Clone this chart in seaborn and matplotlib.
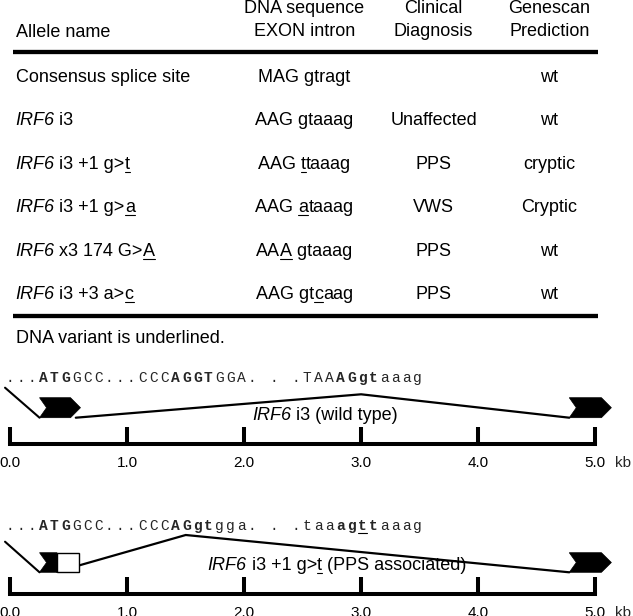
import re
import matplotlib
matplotlib.use("Agg")
import matplotlib.pyplot as plt
from matplotlib.patches import Polygon, Rectangle
import seaborn as sns

# table data (markup: *italic*  **bold**  _underline_)
header_left = "Allele name"
header_cols = [["DNA sequence", "EXON intron"], ["Clinical", "Diagnosis"], ["Genescan", "Prediction"]]
alleles = ["Consensus splice site", "*IRF6* i3", "*IRF6* i3 +1 g>_t_",
           "*IRF6* i3 +1 g>_a_", "*IRF6* x3 174 G>_A_", "*IRF6* i3 +3 a>_c_"]
sequences = ["MAG gtragt", "AAG gtaaag", "AAG _t_taaag", "AAG _a_taaag", "AA_A_ gtaaag", "AAG gt_c_aag"]
diagnosis = ["", "Unaffected", "PPS", "VWS", "PPS", "PPS"]
prediction = ["wt", "wt", "cryptic", "Cryptic", "wt", "wt"]
footnote = "DNA variant is underlined."

# gene diagrams, positions in kb
kb_ticks = [0.0, 1.0, 2.0, 3.0, 4.0, 5.0]
wt_seq = "...**ATG**GCC...CCC**AGGT**GGA. . .TAA**AGgt**aaag"
mut_seq = "...**ATG**GCC...CCC**AGgt**gga. . .taa**ag_t_t**aaag"
wt_label = "*IRF6* i3 (wild type)"
mut_label = "*IRF6* i3 +1 g>_t_ (PPS associated)"
exon3_kb = [0.25, 0.60]
exon4_kb = [4.78, 5.14]
lost_kb = [0.40, 0.59]      # part of exon 3 lost with the cryptic donor
wt_donor_kb = 3.0
mut_donor_kb = 1.5

# ---- layout ----
W, H = 633, 616
KB0, KB5 = 10.3, 595.0           # pixel x of 0.0 and 5.0 kb
PX_PER_KB = (KB5 - KB0) / 5
SANS = "Liberation Sans"
MONO = "Liberation Mono"

sns.set_theme(style="white")
plt.rcParams["font.family"] = [SANS, "DejaVu Sans"]

fig = plt.figure(figsize=(W / 100, H / 100), dpi=100)
tax = fig.add_axes([0, 0, 1, 1])
tax.set_xlim(0, W)
tax.set_ylim(H, 0)
tax.axis("off")
renderer = fig.canvas.get_renderer()


def parse(s):
    runs, b, i, u = [], False, False, False
    for tok in re.split(r"(\*\*|\*|_)", s):
        if tok == "**":
            b = not b
        elif tok == "*":
            i = not i
        elif tok == "_":
            u = not u
        elif tok:
            runs.append((tok, b, i, u))
    return runs


def advance(s, **kw):
    t1 = tax.text(0, 0, "|" + s + "|", **kw)
    t2 = tax.text(0, 0, "||", **kw)
    w = t1.get_window_extent(renderer).width - t2.get_window_extent(renderer).width
    t1.remove()
    t2.remove()
    return w


def rich_text(x, y, s, ha="left", size=13):
    runs = parse(s)
    styles = [dict(fontsize=size, family=SANS,
                   fontweight="bold" if b else "normal",
                   fontstyle="italic" if i else "normal") for _, b, i, _ in runs]
    widths = [advance(r[0], **st) for r, st in zip(runs, styles)]
    x0 = x - sum(widths) / 2 if ha == "center" else x
    for (txt, b, i, u), st, w in zip(runs, styles, widths):
        tax.text(x0, y, txt, ha="left", va="baseline", color="black", **st)
        if u:
            tax.plot([x0, x0 + w], [y + 3, y + 3], color="black", lw=0.8)
        x0 += w


# ---- table ----
col_x = [304.5, 433.5, 549.3]
rich_text(15.5, 37, header_left)
for cx, lines in zip(col_x, header_cols):
    rich_text(cx, 13, lines[0], ha="center")
    rich_text(cx, 36, lines[1], ha="center")
tax.plot([12.7, 598.3], [52, 52], color="black", lw=3.1, solid_capstyle="butt")
for k in range(len(alleles)):
    y = 81.7 + k * 43.45
    rich_text(15.5, y, alleles[k])
    for cx, col in zip(col_x, [sequences, diagnosis, prediction]):
        if col[k]:
            rich_text(cx, y, col[k], ha="center")
tax.plot([12.7, 598.3], [315.5, 315.5], color="black", lw=3.1, solid_capstyle="butt")
rich_text(15.5, 343, footnote)


# ---- gene diagrams ----
def diagram_axes(base_px, top_px):
    h = base_px - top_px
    ax = fig.add_axes([KB0 / W, (H - base_px) / H, (KB5 - KB0) / W, h / H])
    ax.patch.set_alpha(0)
    for sp in ["top", "right", "left"]:
        ax.spines[sp].set_visible(False)
    ax.spines["bottom"].set_linewidth(2.9)
    ax.spines["bottom"].set_color("black")
    ax.set_yticks([])
    ax.set_xticks(kb_ticks, [f"{t:.1f}" for t in kb_ticks])
    ax.tick_params(axis="x", direction="in", length=12, width=2.9, pad=8.5,
                   labelsize=11, colors="black", bottom=True)
    ax.text(5.24, -8.5 * 100 / 72, "kb", ha="center", va="top", fontsize=11, clip_on=False)
    return ax, h


def chevron(ax, x0, x1, y0, y1, tip=0.085, notch=0.06, flat_right=False):
    ym = (y0 + y1) / 2
    if flat_right:
        pts = [(x0, y1), (x1, y1), (x1, y0), (x0, y0), (x0 + notch, ym)]
    else:
        pts = [(x0, y1), (x1 - tip, y1), (x1, ym), (x1 - tip, y0), (x0, y0), (x0 + notch, ym)]
    ax.add_patch(Polygon(pts, closed=True, fc="black", ec="black", lw=0.5, clip_on=False, zorder=3))


def sequence(ax, s, y):
    pitch = 11 / PX_PER_KB
    k = 0
    for txt, b, i, u in parse(s):
        for ch in txt:
            x = k * pitch
            ax.text(x, y, ch, ha="center", va="baseline", family=MONO, fontsize=10.5,
                    fontweight="bold" if b else "normal", clip_on=False)
            if u:
                ax.plot([x - 0.4 * pitch, x + 0.4 * pitch], [y - 3, y - 3], color="black", lw=0.8)
            k += 1


# wild type
ax1, h1 = diagram_axes(443.7, 370)
ax1.plot([-0.045, exon3_kb[0]], [56, 26], color="black", lw=1.5, clip_on=False)
sns.lineplot(x=[exon3_kb[1] - 0.04, wt_donor_kb, exon4_kb[0]], y=[26, 49.4, 26],
             sort=False, color="black", linewidth=1.6, ax=ax1)
chevron(ax1, exon3_kb[0], exon3_kb[1], 26, 46)
chevron(ax1, exon4_kb[0], exon4_kb[1], 26, 46)
sequence(ax1, wt_seq, 62)
ax1.set_xlim(0, 5)
ax1.set_ylim(0, h1)
rich_text(325, 420, wt_label, ha="center")

# mutant
ax2, h2 = diagram_axes(594.3, 520)
ax2.plot([-0.045, exon3_kb[0]], [52.6, 22], color="black", lw=1.5, clip_on=False)
sns.lineplot(x=[lost_kb[0], mut_donor_kb, exon4_kb[0]], y=[22.6, 59.3, 22],
             sort=False, color="black", linewidth=1.6, ax=ax2)
chevron(ax2, exon3_kb[0], lost_kb[0], 22, 41.6, flat_right=True)
ax2.add_patch(Rectangle((lost_kb[0], 22.6), lost_kb[1] - lost_kb[0], 18.4,
                        fc="white", ec="black", lw=1.0, zorder=4, clip_on=False))
chevron(ax2, exon4_kb[0], exon4_kb[1], 22, 41.6)
sequence(ax2, mut_seq, 64.3)
ax2.set_xlim(0, 5)
ax2.set_ylim(0, h2)
rich_text(337, 570, mut_label, ha="center")

fig.savefig("out.png", dpi=100)
